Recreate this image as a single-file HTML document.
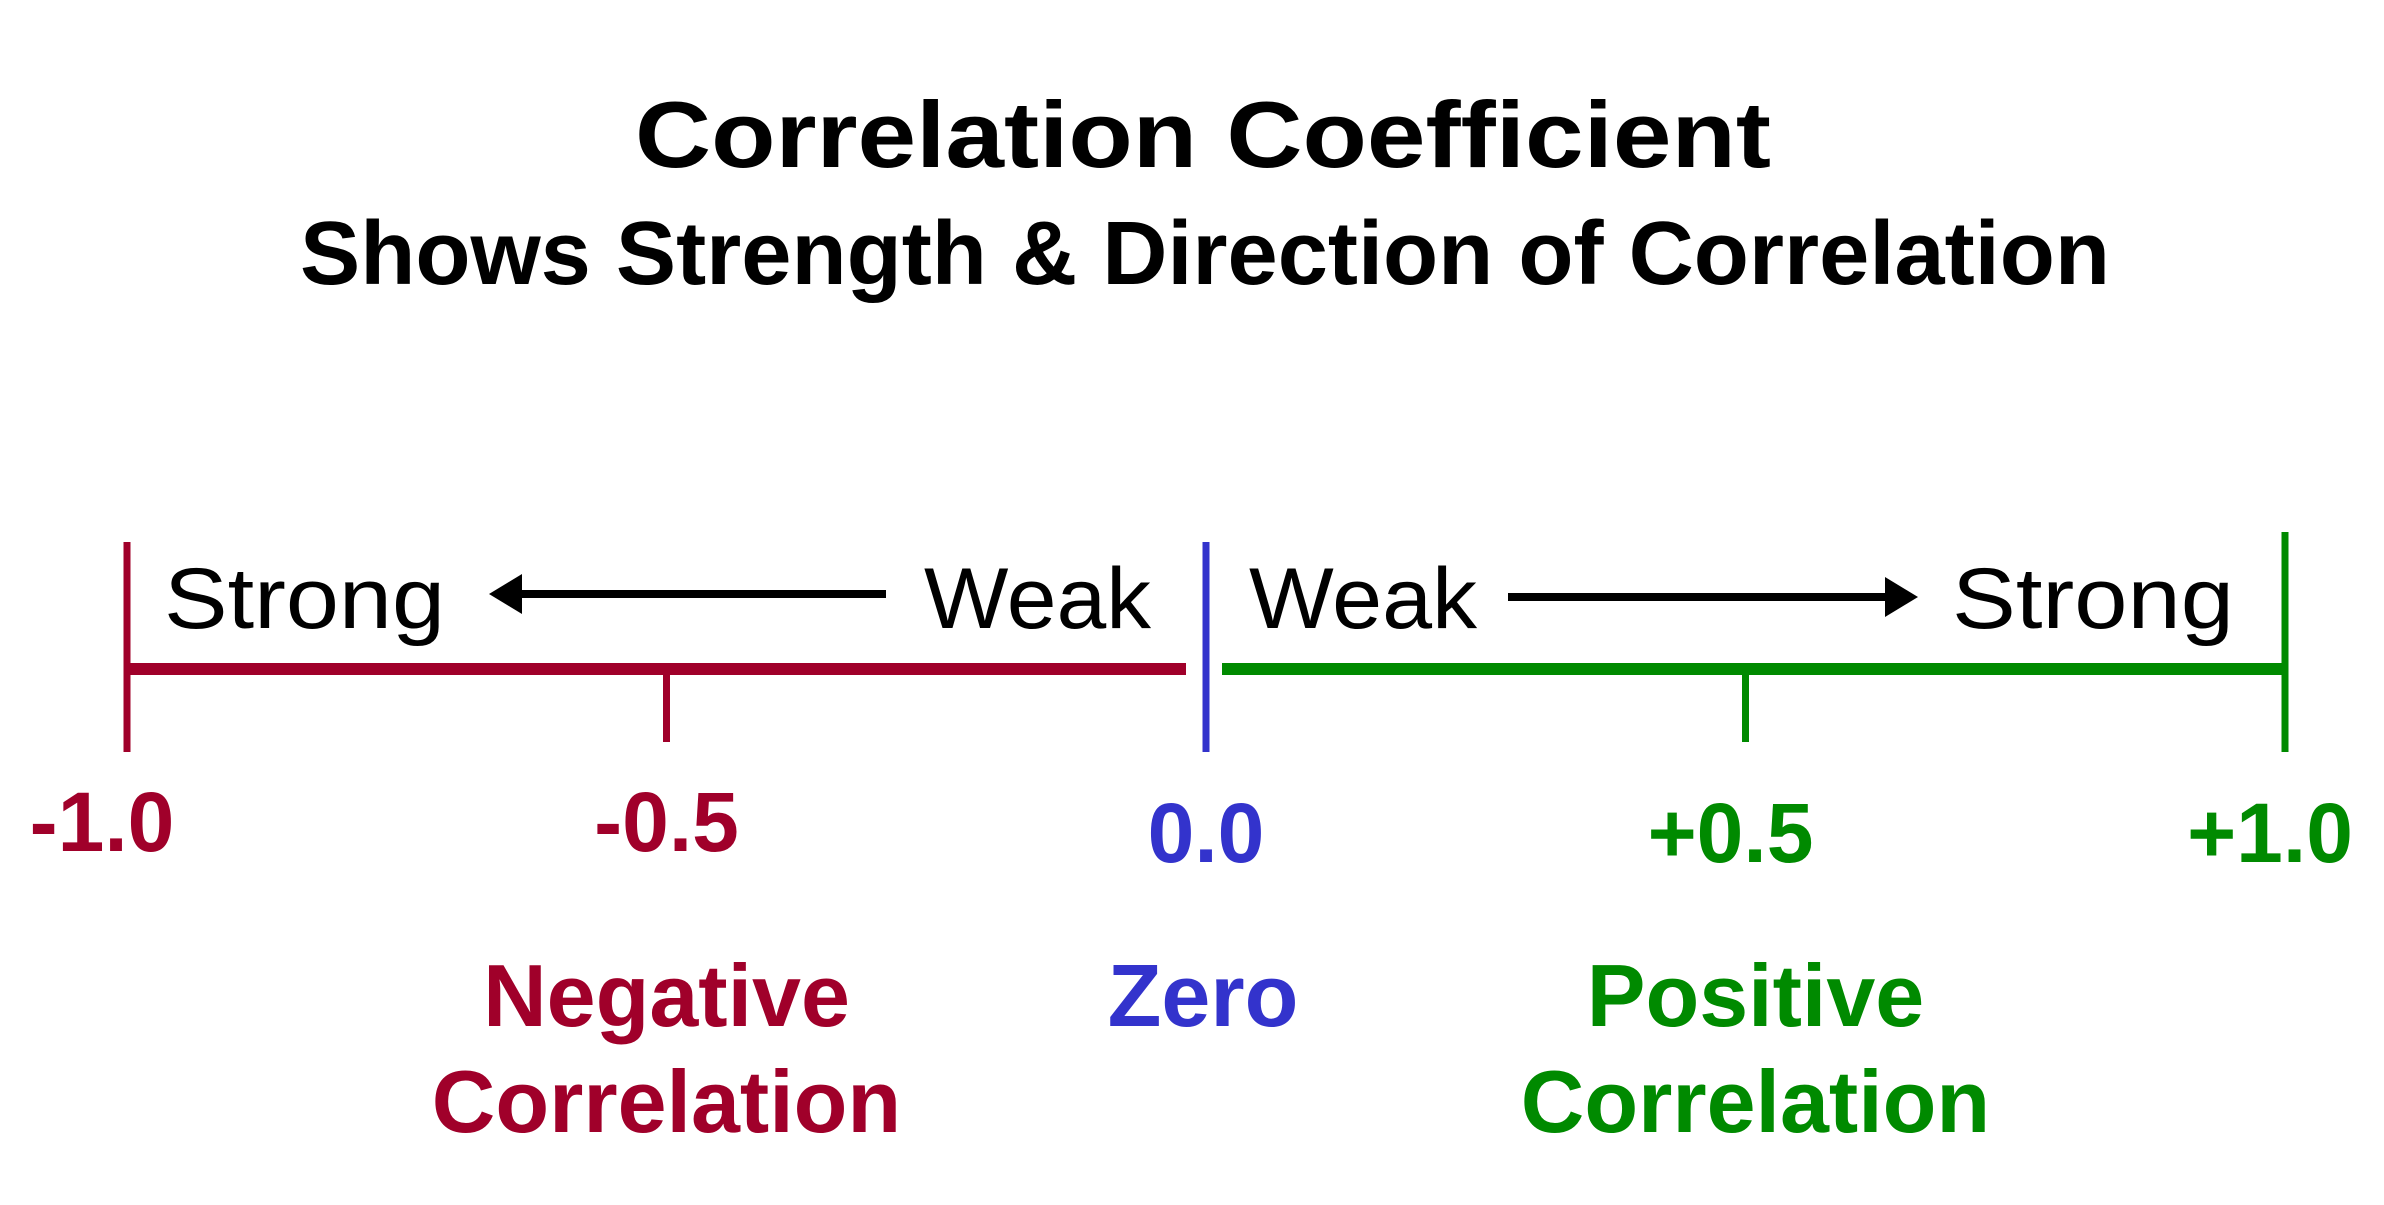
<!DOCTYPE html>
<html><head><meta charset="utf-8"><style>
html,body{margin:0;padding:0;background:#fff;}
svg{display:block;}
text{font-family:"Liberation Sans",Arial,sans-serif;}
</style></head><body>
<svg id="chart" width="2384" height="1205" viewBox="0 0 2384 1205" xmlns="http://www.w3.org/2000/svg">
<rect width="2384" height="1205" fill="#fff"/>
<text x="635" y="167" font-size="94" font-weight="bold" textLength="1136" lengthAdjust="spacingAndGlyphs" fill="#000">Correlation Coefficient</text>
<text x="300" y="284" font-size="90" font-weight="bold" textLength="1810" lengthAdjust="spacingAndGlyphs" fill="#000">Shows Strength &amp; Direction of Correlation</text>
<g id="axis"></g>
</svg>
<script>
const tickValues = [-1.0, -0.5, 0.0, 0.5, 1.0];
const tickLabels = ["-1.0", "-0.5", "0.0", "+0.5", "+1.0"];
const categoryNames = ["Negative", "Zero", "Positive"];
const categoryCenters = [-0.5, 0.0, 0.5];

const RED = "#a0002a", BLUE = "#3333cc", GREEN = "#008a00";
const NS = "http://www.w3.org/2000/svg";
const g = document.getElementById("axis");
function x(v){ return 1206 + v * 1079; }
const axisY = 669;
function colorFor(v){ return v < 0 ? RED : (v > 0 ? GREEN : BLUE); }
function mk(tag, attrs){ const e = document.createElementNS(NS, tag); for (const k in attrs) e.setAttribute(k, attrs[k]); g.appendChild(e); return e; }

let seg = mk("rect", {x: x(-1), y: axisY - 6, width: x(0) - 20 - x(-1), height: 12, fill: RED});


seg = mk("rect", {x: x(0) + 16, y: axisY - 6, width: x(1) - x(0) - 16, height: 12, fill: GREEN});



tickValues.forEach((v, i) => {
  const major = Math.abs(v) === 1 || v === 0;
  const top = major ? (v === 1 ? 532 : 542) : axisY;
  const bot = major ? 752 : 742;
  const t = mk("rect", {x: x(v) - 3.5, y: top, width: 7, height: bot - top, fill: colorFor(v)});
  
  
  const off = v === -1 ? -25 : (v > 0 ? -15 : 0);
  const lbl = mk("text", {x: x(v) + off, y: v < 0 ? 851 : 862, "font-size": 84, "font-weight": "bold", "text-anchor": "middle", fill: colorFor(v)});
  lbl.textContent = tickLabels[i];
  
  
});

const sw = [["Strong",164,281],["Weak",924,227],["Weak",1249,228],["Strong",1952,282]];
sw.forEach((s, i) => {
  const t = mk("text", {x: s[1], y: 628, "font-size": 86, textLength: s[2], lengthAdjust: "spacingAndGlyphs", fill: "#000"});
  t.textContent = s[0];
  
  
});

let a = mk("line", {x1: 886, y1: 594, x2: 515, y2: 594, stroke: "#000", "stroke-width": 8});


a = mk("polygon", {points: "489,594 522,574 522,614", fill: "#000"});


a = mk("line", {x1: 1508, y1: 597, x2: 1892, y2: 597, stroke: "#000", "stroke-width": 8});


a = mk("polygon", {points: "1918,597 1885,577 1885,617", fill: "#000"});



categoryNames.forEach((n, i) => {
  const v = categoryCenters[i];
  const cx = x(v) + (v < 0 ? 0 : (v > 0 ? 10 : -3));
  const t = mk("text", {x: cx, y: 1026, "font-size": 88, "font-weight": "bold", "text-anchor": "middle", fill: colorFor(v)});
  t.textContent = n;
  
  
  if (v !== 0) {
    const t2 = mk("text", {x: cx, y: 1132, "font-size": 88, "font-weight": "bold", "text-anchor": "middle", fill: colorFor(v)});
    t2.textContent = "Correlation";
    
    
  }
});
</script>
</body></html>
